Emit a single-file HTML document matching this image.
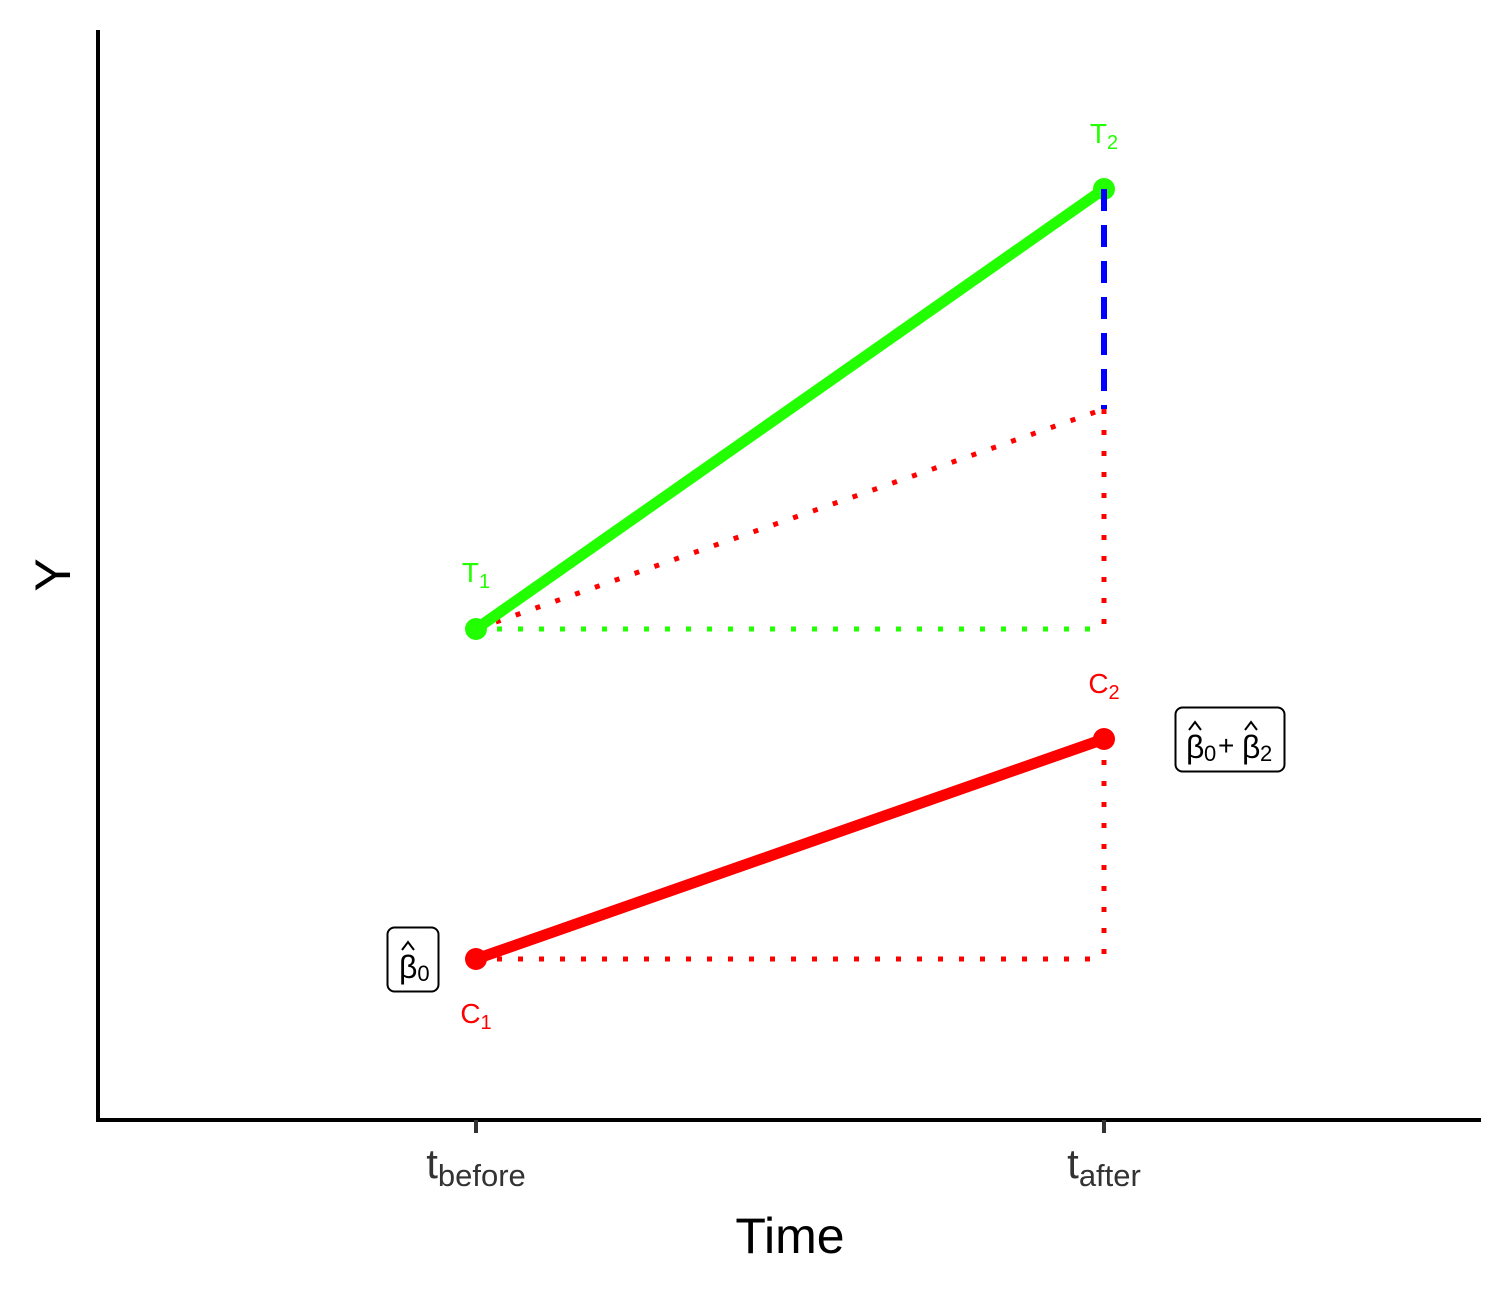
<!DOCTYPE html>
<html><head><meta charset="utf-8"><style>
html,body{margin:0;padding:0;background:#fff;}
svg{display:block;font-family:"Liberation Sans","DejaVu Sans",sans-serif;}
</style></head><body>
<svg width="1512" height="1296" viewBox="0 0 1512 1296" xmlns="http://www.w3.org/2000/svg">
<rect width="1512" height="1296" fill="#fff"/>
<line x1="98" y1="30" x2="98" y2="1122" stroke="#000" stroke-width="4"/>
<line x1="96" y1="1120" x2="1481" y2="1120" stroke="#000" stroke-width="4"/>
<line x1="476" y1="1120" x2="476" y2="1133" stroke="#333" stroke-width="4"/>
<line x1="1104" y1="1120" x2="1104" y2="1133" stroke="#333" stroke-width="4"/>
<text x="476" y="1178" text-anchor="middle" font-size="42" fill="#333">t<tspan font-size="31" dy="8">before</tspan></text>
<text x="1104" y="1178" text-anchor="middle" font-size="42" fill="#333">t<tspan font-size="31" dy="8">after</tspan></text>
<text x="790" y="1253" text-anchor="middle" font-size="50" fill="#000">Time</text>
<text transform="translate(70,575) rotate(-90)" text-anchor="middle" font-size="50" fill="#000">Y</text>
<line x1="476" y1="629" x2="1104" y2="629" stroke="#22ff00" stroke-width="5" stroke-dasharray="5,16"/>
<line x1="476" y1="959" x2="1104" y2="959" stroke="#ff0000" stroke-width="5" stroke-dasharray="5,16"/>
<line x1="476" y1="629" x2="1104" y2="409" stroke="#ff0000" stroke-width="5" stroke-dasharray="5,16"/>
<line x1="1104" y1="409" x2="1104" y2="629" stroke="#ff0000" stroke-width="5" stroke-dasharray="5,16"/>
<line x1="1104" y1="739" x2="1104" y2="959" stroke="#ff0000" stroke-width="5" stroke-dasharray="5,16"/>
<line x1="1104" y1="189" x2="1104" y2="409" stroke="#0000ff" stroke-width="6" stroke-dasharray="22,14"/>
<line x1="476" y1="629" x2="1104" y2="189" stroke="#22ff00" stroke-width="11"/>
<line x1="476" y1="959" x2="1104" y2="739" stroke="#ff0000" stroke-width="11"/>
<circle cx="476" cy="629" r="11" fill="#22ff00"/>
<circle cx="1104" cy="189" r="11" fill="#22ff00"/>
<circle cx="476" cy="959" r="11" fill="#ff0000"/>
<circle cx="1104" cy="739" r="11" fill="#ff0000"/>
<line x1="1104" y1="189" x2="1104" y2="205" stroke="#0000ff" stroke-width="6"/>
<text x="476" y="582" text-anchor="middle" font-size="28" fill="#22ff00">T<tspan font-size="20" dy="6">1</tspan></text>
<text x="1104" y="143" text-anchor="middle" font-size="28" fill="#22ff00">T<tspan font-size="20" dy="6">2</tspan></text>
<text x="476" y="1023" text-anchor="middle" font-size="28" fill="#ff0000">C<tspan font-size="20" dy="6">1</tspan></text>
<text x="1104" y="693" text-anchor="middle" font-size="28" fill="#ff0000">C<tspan font-size="20" dy="6">2</tspan></text>
<rect x="387.5" y="927.5" width="51" height="64" rx="7" fill="#fff" stroke="#000" stroke-width="2"/>
<text x="399" y="978" font-size="32" fill="#000">β<tspan font-size="22" dy="3">0</tspan></text>
<path d="M402,950 L408,942 L414,950" fill="none" stroke="#000" stroke-width="2"/>
<rect x="1175.5" y="707.5" width="109" height="64" rx="7" fill="#fff" stroke="#000" stroke-width="2"/>
<text x="1186" y="758" font-size="32" fill="#000">β</text>
<text x="1204" y="761" font-size="22" fill="#000">0</text>
<text x="1218" y="755" font-size="28" fill="#000">+</text>
<text x="1242" y="758" font-size="32" fill="#000">β</text>
<text x="1260" y="761" font-size="22" fill="#000">2</text>
<path d="M1189,730 L1195,722 L1201,730" fill="none" stroke="#000" stroke-width="2"/>
<path d="M1245,730 L1251,722 L1257,730" fill="none" stroke="#000" stroke-width="2"/>
</svg>
</body></html>
